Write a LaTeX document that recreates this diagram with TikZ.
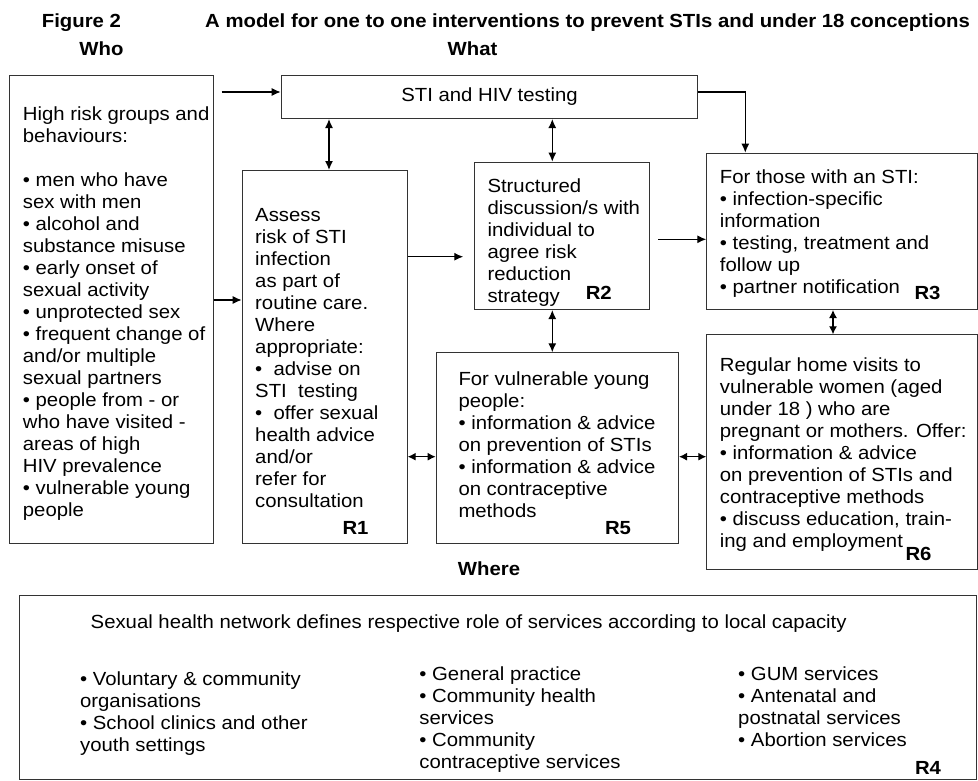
\documentclass[tikz,border=0pt]{standalone}
\usepackage{fontspec}
\setmainfont{Liberation Sans}[FakeStretch=1.07]
\usetikzlibrary{arrows.meta}

\begin{document}
\begin{tikzpicture}[x=1pt, y=-1pt, box node/.style={draw=black!80, line width=1pt, inner sep=0pt, anchor=north west}, text node/.style={anchor=north west, align=left, inner sep=0pt, font=\fontsize{19pt}{22pt}\selectfont}, head node/.style={inner sep=0pt, font=\fontsize{19pt}{22pt}\selectfont\bfseries}, >={Latex[length=9pt,width=8pt]}]

  \useasboundingbox (0,0) rectangle (978,780);

  % headings
  \node[head node, anchor=west] (fig) at (41.7,23) {Figure 2};
  \node[head node, anchor=west] (title) at (205,23) {A model for one to one interventions to prevent STIs and under 18 conceptions};
  \node[head node] (who head) at (101.5,49) {Who};
  \node[head node] (what head) at (472.5,49) {What};
  \node[head node] (where head) at (489,569) {Where};

  % boxes
  \node[box node, minimum width=203.7pt, minimum height=468pt] (who) at (9,74.7) {};
  \node[box node, minimum width=416.6pt, minimum height=43.3pt, font=\fontsize{19pt}{22pt}\selectfont] (sti) at (280.7,74.7) {STI and HIV testing};
  \node[box node, minimum width=165pt, minimum height=372.7pt] (assess) at (241.7,170) {};
  \node[box node, minimum width=174.4pt, minimum height=147.3pt] (discuss) at (474.3,161.7) {};
  \node[box node, minimum width=270.7pt, minimum height=156.3pt] (treat) at (706.3,152.7) {};
  \node[box node, minimum width=242.3pt, minimum height=190.4pt] (young) at (435.7,352.3) {};
  \node[box node, minimum width=270.7pt, minimum height=234.7pt] (visits) at (706.3,334.3) {};
  \node[box node, minimum width=957.3pt, minimum height=183.5pt] (network) at (18.7,595) {};

  % box texts
  \node[text node] (who text) at (22.7,107) {High risk groups and\\behaviours:\\[22pt]• men who have\\sex with men\\• alcohol and\\substance misuse\\• early onset of\\sexual activity\\• unprotected sex\\• frequent change of\\and/or multiple\\sexual partners\\• people from - or\\who have visited -\\areas of high\\HIV prevalence\\• vulnerable young\\people};
  \node[text node] (assess text) at (255,208) {Assess\\risk of STI\\infection\\as part of\\routine care.\\Where\\appropriate:\\•~ advise on\\STI~ testing\\•~ offer sexual\\health advice\\and/or\\refer for\\consultation};
  \node[text node] (discuss text) at (487.3,179) {Structured\\discussion/s with\\individual to\\agree risk\\reduction\\strategy};
  \node[text node] (treat text) at (719.7,169.7) {For those with an STI:\\• infection-specific\\information\\• testing, treatment and\\follow up\\• partner notification};
  \node[text node] (young text) at (458.3,371.3) {For vulnerable young\\people:\\• information \& advice\\on prevention of STIs\\• information \& advice\\on contraceptive\\methods};
  \node[text node] (visits text) at (719.7,358) {Regular home visits to\\vulnerable women (aged\\under 18 ) who are\\pregnant or mothers. Offer:\\• information \& advice\\on prevention of STIs and\\contraceptive methods\\• discuss education, train-\\ing and employment};
  \node[text node] (network text) at (90.5,614.7) {Sexual health network defines respective role of services according to local capacity};
  \node[text node] (col one) at (79.9,671.3) {• Voluntary \& community\\organisations\\• School clinics and other\\youth settings};
  \node[text node] (col two) at (419.2,666.3) {• General practice\\• Community health\\services\\• Community\\contraceptive services};
  \node[text node] (col three) at (738,666.3) {• GUM services\\• Antenatal and\\postnatal services\\• Abortion services};

  % reference tags
  \node[head node] (r1) at (355.5,528) {R1};
  \node[head node] (r2) at (598.8,293.3) {R2};
  \node[head node] (r3) at (927.5,293.3) {R3};
  \node[head node] (r5) at (618,528) {R5};
  \node[head node] (r6) at (918.5,554) {R6};
  \node[head node] (r4) at (928,767.5) {R4};

  \coordinate (start) at (221.7,92);
  \coordinate (gap a) at (463.3,256.7);
  \coordinate (gap b) at (658,239.3);

 \path[] (start) [->,line width=1.3pt] edge node [] {} (sti.west |- start);
 \path[] (who.east |- 0,300) [->,line width=1.3pt] edge node [] {} (assess.west |- 0,300);
 \path[] (assess.east |- gap a) [->,line width=1.3pt] edge node [] {} (gap a);
 \path[] (gap b) [->,line width=1.3pt] edge node [] {} (treat.west |- gap b);

 \path[] (sti.south -| 329,0) [<->,line width=1.3pt] edge node [] {} (assess.north -| 329,0);
 \path[] (sti.south -| 552.3,0) [<->,line width=1.3pt] edge node [] {} (discuss.north -| 552.3,0);
 \path[] (discuss.south -| 552.3,0) [<->,line width=1.3pt] edge node [] {} (young.north -| 552.3,0);
 \path[] (treat.south -| 833,0) [<->,line width=1.3pt,>={Latex[length=8pt,width=8pt]}] edge node [] {} (visits.north -| 833,0);
 \path[] (assess.east |- 0,456.7) [<->,line width=1.3pt,>={Latex[length=8pt,width=8pt]}] edge node [] {} (young.west |- 0,456.7);
 \path[] (young.east |- 0,456.7) [<->,line width=1.3pt,>={Latex[length=8pt,width=8pt]}] edge node [] {} (visits.west |- 0,456.7);

 \draw[->,line width=1.3pt] (sti.east |- start) -| (treat.north -| 745.3,0);
\end{tikzpicture}
\end{document}
